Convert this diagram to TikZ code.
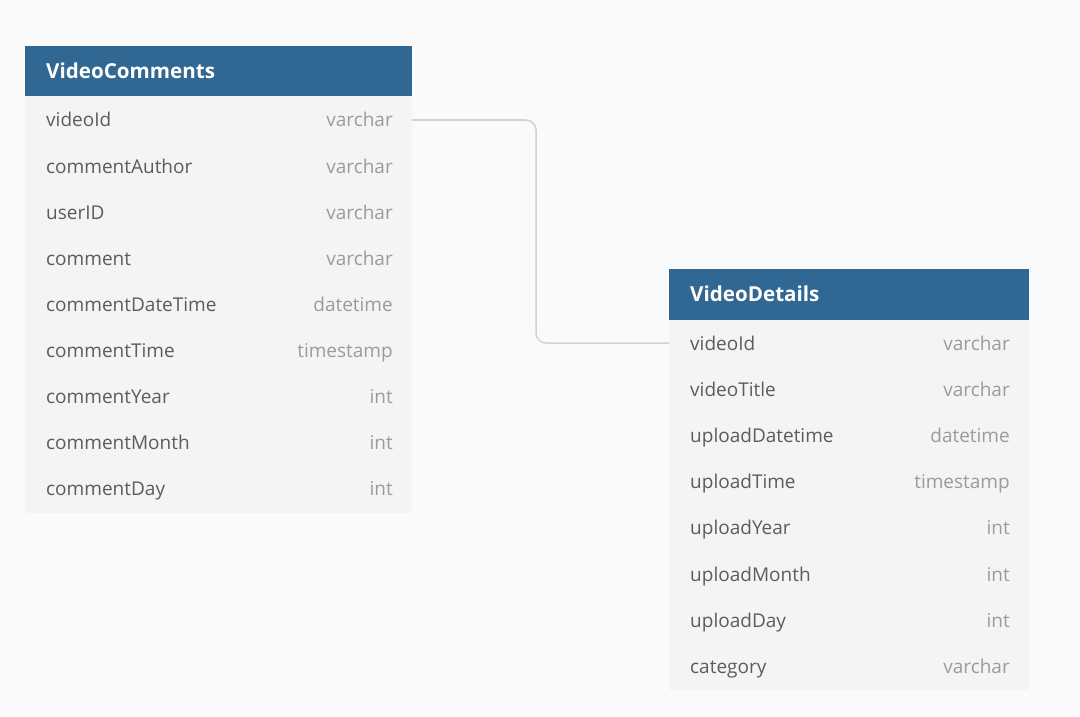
\documentclass[tikz,border=0pt]{standalone}
\usepackage{fontspec}
\setmainfont{Open Sans}
\usetikzlibrary{positioning}
\definecolor{hdrblue}{HTML}{316893}
\definecolor{bgcol}{HTML}{FAFAFA}
\definecolor{rowcol}{HTML}{F4F4F4}
\definecolor{namecol}{HTML}{5C5C5C}
\definecolor{typecol}{HTML}{9B9B9B}
\definecolor{linkcol}{HTML}{D2D2D2}
\tikzset{
  title/.style={anchor=base west,text=white,font=\fontsize{20.6}{24}\selectfont\bfseries,inner sep=0pt},
  fname/.style={anchor=base west,text=namecol,font=\fontsize{19}{23}\selectfont,inner sep=0pt},
  ftype/.style={anchor=base east,text=typecol,font=\fontsize{19}{23}\selectfont,inner sep=0pt},
  link/.style={draw=linkcol,line width=1.5pt,rounded corners=10pt}
}
\begin{document}
\begin{tikzpicture}[x=1pt,y=-1pt]
\fill[bgcol] (0,0) rectangle (1080,717);

% VideoComments
\fill[rowcol] (25,96) rectangle (412,513);
\fill[hdrblue] (25,46) rectangle (412,96);
\node[title] (vc) at (46,78) {VideoComments};
\foreach \n/\t [count=\i] in {videoId/varchar, commentAuthor/varchar,
  userID/varchar, comment/varchar, commentDateTime/datetime,
  commentTime/timestamp, commentYear/int, commentMonth/int, commentDay/int}
{
\node[fname] (vc-n\i) at (46,{127+46.1*(\i-1)}) {\n};
\node[ftype] (vc-t\i) at (393,{127+46.1*(\i-1)}) {\t};
}

% VideoDetails
\fill[rowcol] (669,320) rectangle (1029,690);
\fill[hdrblue] (669,269) rectangle (1029,320);
\node[title] (vd) at (690,301) {VideoDetails};
\foreach \n/\t [count=\i] in {videoId/varchar, videoTitle/varchar,
  uploadDatetime/datetime, uploadTime/timestamp, uploadYear/int,
  uploadMonth/int, uploadDay/int, category/varchar}
{
\node[fname] (vd-n\i) at (690,{350+46.2*(\i-1)}) {\n};
\node[ftype] (vd-t\i) at (1010,{350+46.2*(\i-1)}) {\t};
}

% videoId -- videoId
\coordinate (vc-out) at (412,120);
\coordinate (vd-in) at (669,343);
\draw[link] (vc-out) -- ++(124,0) |- (vd-in);
\end{tikzpicture}
\end{document}
